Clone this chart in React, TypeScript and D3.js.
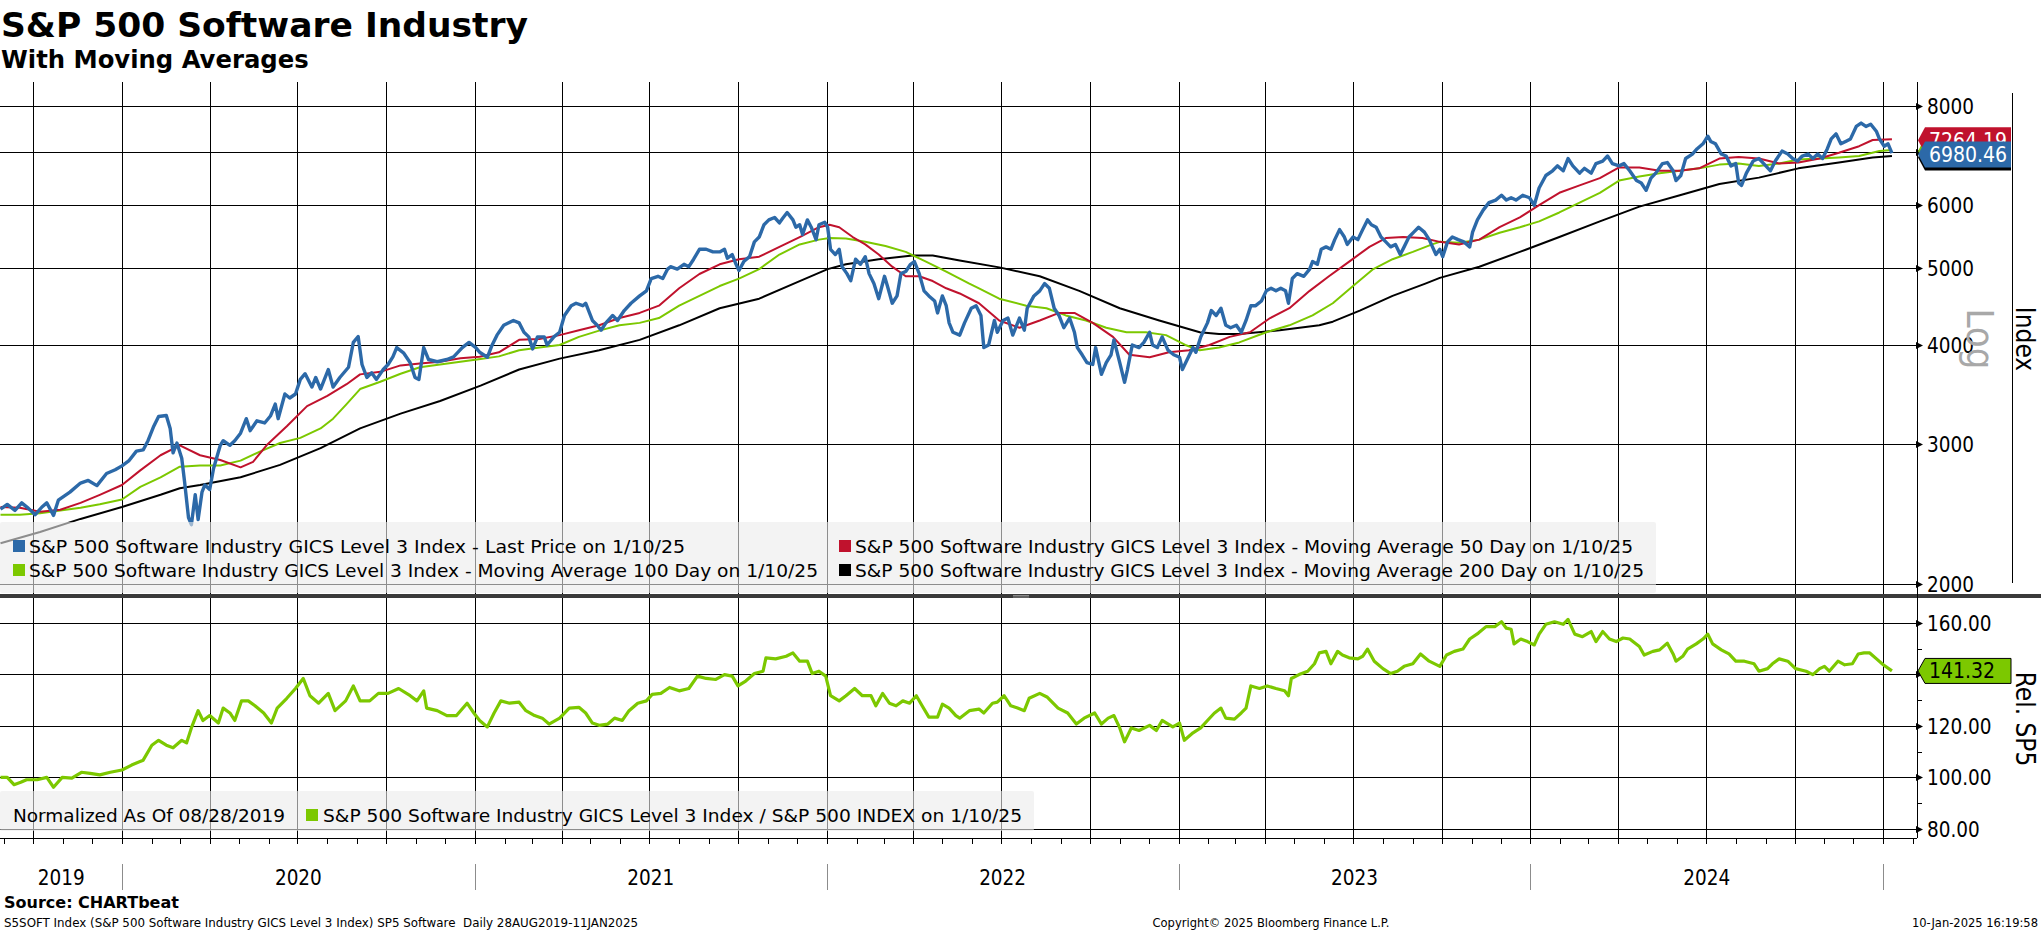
import { useEffect, useRef } from 'react';
import * as d3 from 'd3';

type Pt = [string, number];

// S5SOFT last price
const lastPrice: Pt[] = [
  ['2019-08-28', 2484], ['2019-09-04', 2519], ['2019-09-12', 2475], ['2019-09-19', 2530], ['2019-09-26', 2490],
  ['2019-10-03', 2445], ['2019-10-10', 2500], ['2019-10-15', 2530], ['2019-10-22', 2440], ['2019-10-27', 2550],
  ['2019-11-08', 2610], ['2019-11-19', 2680], ['2019-11-27', 2700], ['2019-12-06', 2660], ['2019-12-16', 2755],
  ['2019-12-25', 2785], ['2020-01-01', 2817], ['2020-01-08', 2857], ['2020-01-16', 2940], ['2020-01-23', 2950],
  ['2020-01-28', 3030], ['2020-02-03', 3160], ['2020-02-08', 3250], ['2020-02-16', 3260], ['2020-02-20', 3140],
  ['2020-02-23', 2925], ['2020-02-27', 3010], ['2020-03-03', 2880], ['2020-03-06', 2686], ['2020-03-10', 2425],
  ['2020-03-13', 2375], ['2020-03-17', 2590], ['2020-03-20', 2410], ['2020-03-24', 2610], ['2020-03-27', 2665],
  ['2020-04-01', 2630], ['2020-04-05', 2795], ['2020-04-12', 2990], ['2020-04-15', 3030], ['2020-04-22', 2990],
  ['2020-04-27', 3030], ['2020-05-03', 3097], ['2020-05-09', 3230], ['2020-05-13', 3120], ['2020-05-20', 3210],
  ['2020-05-28', 3190], ['2020-06-03', 3255], ['2020-06-08', 3370], ['2020-06-11', 3230], ['2020-06-18', 3470],
  ['2020-06-23', 3430], ['2020-06-29', 3470], ['2020-07-04', 3620], ['2020-07-09', 3680], ['2020-07-16', 3540],
  ['2020-07-20', 3640], ['2020-07-25', 3520], ['2020-08-02', 3725], ['2020-08-07', 3540], ['2020-08-14', 3640],
  ['2020-08-23', 3750], ['2020-08-28', 4030], ['2020-09-02', 4100], ['2020-09-06', 3780], ['2020-09-11', 3640],
  ['2020-09-16', 3690], ['2020-09-21', 3620], ['2020-09-28', 3725], ['2020-10-03', 3780], ['2020-10-08', 3865],
  ['2020-10-12', 3970], ['2020-10-19', 3910], ['2020-10-26', 3800], ['2020-10-31', 3640], ['2020-11-04', 3620],
  ['2020-11-09', 3970], ['2020-11-14', 3835], ['2020-11-23', 3810], ['2020-12-03', 3835], ['2020-12-10', 3865],
  ['2020-12-19', 3970], ['2020-12-26', 4030], ['2021-01-02', 3970], ['2021-01-06', 3916], ['2021-01-14', 3860],
  ['2021-01-19', 4000], ['2021-01-24', 4116], ['2021-01-31', 4235], ['2021-02-10', 4295], ['2021-02-16', 4265],
  ['2021-02-21', 4150], ['2021-02-26', 4095], ['2021-03-02', 3955], ['2021-03-07', 4095], ['2021-03-14', 4095],
  ['2021-03-17', 4000], ['2021-03-24', 4095], ['2021-03-30', 4150], ['2021-04-04', 4358], ['2021-04-11', 4483],
  ['2021-04-16', 4515], ['2021-04-23', 4483], ['2021-04-26', 4515], ['2021-05-03', 4295], ['2021-05-08', 4235],
  ['2021-05-12', 4175], ['2021-05-17', 4265], ['2021-05-24', 4358], ['2021-05-29', 4295], ['2021-06-05', 4420],
  ['2021-06-12', 4515], ['2021-06-21', 4612], ['2021-06-28', 4680], ['2021-07-03', 4850], ['2021-07-10', 4882],
  ['2021-07-15', 4850], ['2021-07-20', 4985], ['2021-07-23', 5020], ['2021-07-30', 4985], ['2021-08-06', 5055],
  ['2021-08-11', 5020], ['2021-08-16', 5130], ['2021-08-22', 5280], ['2021-08-29', 5280], ['2021-09-05', 5240],
  ['2021-09-12', 5240], ['2021-09-17', 5280], ['2021-09-20', 5145], ['2021-09-25', 5200], ['2021-09-29', 5055],
  ['2021-10-02', 4965], ['2021-10-07', 5095], ['2021-10-13', 5168], ['2021-10-18', 5395], ['2021-10-23', 5471],
  ['2021-10-28', 5670], ['2021-11-02', 5750], ['2021-11-08', 5790], ['2021-11-13', 5700], ['2021-11-16', 5770],
  ['2021-11-21', 5875], ['2021-11-27', 5750], ['2021-11-30', 5629], ['2021-12-04', 5670], ['2021-12-07', 5510],
  ['2021-12-12', 5750], ['2021-12-16', 5629], ['2021-12-21', 5430], ['2021-12-24', 5670], ['2021-12-30', 5710],
  ['2022-01-02', 5629], ['2022-01-05', 5280], ['2022-01-10', 5200], ['2022-01-14', 5280], ['2022-01-17', 5020],
  ['2022-01-22', 4920], ['2022-01-26', 4820], ['2022-01-31', 5130], ['2022-02-05', 5055], ['2022-02-10', 5168],
  ['2022-02-14', 4920], ['2022-02-19', 4780], ['2022-02-24', 4575], ['2022-03-02', 4882], ['2022-03-05', 4746],
  ['2022-03-10', 4515], ['2022-03-15', 4612], ['2022-03-19', 4920], ['2022-03-24', 4950], ['2022-03-29', 5055],
  ['2022-04-02', 5095], ['2022-04-07', 4920], ['2022-04-12', 4680], ['2022-04-17', 4612], ['2022-04-23', 4545],
  ['2022-04-26', 4390], ['2022-05-01', 4612], ['2022-05-05', 4483], ['2022-05-08', 4265], ['2022-05-12', 4150],
  ['2022-05-19', 4116], ['2022-05-24', 4265], ['2022-05-31', 4450], ['2022-06-05', 4483], ['2022-06-10', 4358],
  ['2022-06-13', 3970], ['2022-06-18', 4000], ['2022-06-24', 4295], ['2022-06-27', 4150], ['2022-07-03', 4295],
  ['2022-07-08', 4325], ['2022-07-13', 4116], ['2022-07-20', 4325], ['2022-07-25', 4175], ['2022-07-28', 4450],
  ['2022-08-04', 4612], ['2022-08-10', 4680], ['2022-08-15', 4780], ['2022-08-20', 4715], ['2022-08-25', 4450],
  ['2022-08-30', 4358], ['2022-09-04', 4205], ['2022-09-10', 4325], ['2022-09-15', 4150], ['2022-09-18', 3970],
  ['2022-09-23', 3888], ['2022-09-28', 3800], ['2022-10-04', 3780], ['2022-10-07', 3970], ['2022-10-13', 3673],
  ['2022-10-18', 3800], ['2022-10-23', 3888], ['2022-10-26', 4060], ['2022-11-01', 3800], ['2022-11-06', 3590],
  ['2022-11-09', 3725], ['2022-11-14', 4000], ['2022-11-21', 3970], ['2022-11-26', 4030], ['2022-12-02', 4150],
  ['2022-12-05', 4000], ['2022-12-10', 3970], ['2022-12-15', 4095], ['2022-12-21', 3940], ['2022-12-27', 3888],
  ['2023-01-02', 3860], ['2023-01-05', 3725], ['2023-01-10', 3835], ['2023-01-16', 3970], ['2023-01-19', 3916],
  ['2023-01-24', 4095], ['2023-01-31', 4265], ['2023-02-04', 4420], ['2023-02-09', 4358], ['2023-02-14', 4450],
  ['2023-02-19', 4235], ['2023-02-24', 4205], ['2023-03-02', 4235], ['2023-03-07', 4150], ['2023-03-12', 4295],
  ['2023-03-17', 4483], ['2023-03-22', 4483], ['2023-03-28', 4545], ['2023-04-02', 4680], ['2023-04-07', 4715],
  ['2023-04-12', 4680], ['2023-04-17', 4715], ['2023-04-22', 4680], ['2023-04-25', 4515], ['2023-04-29', 4850],
  ['2023-05-04', 4920], ['2023-05-11', 4882], ['2023-05-17', 4985], ['2023-05-20', 5095], ['2023-05-25', 5055],
  ['2023-05-29', 5280], ['2023-06-03', 5317], ['2023-06-08', 5280], ['2023-06-12', 5430], ['2023-06-17', 5590],
  ['2023-06-22', 5471], ['2023-06-25', 5355], ['2023-07-01', 5471], ['2023-07-06', 5430], ['2023-07-11', 5590],
  ['2023-07-16', 5750], ['2023-07-20', 5670], ['2023-07-25', 5629], ['2023-07-30', 5471], ['2023-08-04', 5395],
  ['2023-08-09', 5317], ['2023-08-14', 5355], ['2023-08-19', 5200], ['2023-08-23', 5317], ['2023-08-28', 5471],
  ['2023-09-02', 5550], ['2023-09-07', 5629], ['2023-09-13', 5550], ['2023-09-18', 5430], ['2023-09-25', 5200],
  ['2023-09-29', 5280], ['2023-10-02', 5168], ['2023-10-07', 5395], ['2023-10-12', 5471], ['2023-10-18', 5430],
  ['2023-10-24', 5395], ['2023-10-30', 5317], ['2023-11-02', 5550], ['2023-11-07', 5750], ['2023-11-13', 5915],
  ['2023-11-19', 6045], ['2023-11-26', 6090], ['2023-12-02', 6175], ['2023-12-07', 6090], ['2023-12-12', 6131],
  ['2023-12-17', 6090], ['2023-12-24', 6175], ['2023-12-31', 6131], ['2024-01-05', 6000], ['2024-01-10', 6308],
  ['2024-01-17', 6540], ['2024-01-24', 6630], ['2024-01-29', 6725], ['2024-02-04', 6630], ['2024-02-09', 6870],
  ['2024-02-14', 6725], ['2024-02-21', 6585], ['2024-02-26', 6677], ['2024-03-04', 6585], ['2024-03-09', 6770],
  ['2024-03-16', 6820], ['2024-03-21', 6920], ['2024-03-26', 6770], ['2024-04-02', 6725], ['2024-04-07', 6770],
  ['2024-04-13', 6630], ['2024-04-20', 6445], ['2024-04-25', 6400], ['2024-04-30', 6265], ['2024-05-05', 6490],
  ['2024-05-10', 6585], ['2024-05-17', 6770], ['2024-05-22', 6790], ['2024-05-28', 6630], ['2024-05-31', 6445],
  ['2024-06-05', 6540], ['2024-06-10', 6870], ['2024-06-17', 6960], ['2024-06-22', 7069], ['2024-06-28', 7170],
  ['2024-07-03', 7330], ['2024-07-06', 7220], ['2024-07-11', 7170], ['2024-07-17', 6960], ['2024-07-22', 6920],
  ['2024-07-27', 6725], ['2024-08-01', 6770], ['2024-08-04', 6400], ['2024-08-07', 6355], ['2024-08-12', 6585],
  ['2024-08-19', 6820], ['2024-08-25', 6870], ['2024-08-30', 6770], ['2024-09-06', 6630], ['2024-09-11', 6820],
  ['2024-09-18', 7020], ['2024-09-24', 6960], ['2024-09-29', 6870], ['2024-10-04', 6820], ['2024-10-09', 6920],
  ['2024-10-15', 6960], ['2024-10-20', 6870], ['2024-10-25', 6960], ['2024-10-30', 6870], ['2024-11-04', 7069],
  ['2024-11-08', 7273], ['2024-11-13', 7380], ['2024-11-18', 7170], ['2024-11-23', 7220], ['2024-11-28', 7273],
  ['2024-12-04', 7540], ['2024-12-09', 7615], ['2024-12-14', 7540], ['2024-12-19', 7590], ['2024-12-25', 7430],
  ['2024-12-28', 7273], ['2025-01-02', 7120], ['2025-01-06', 7170], ['2025-01-10', 6980.46],
];

const ma50: Pt[] = [
  ['2019-08-28', 2500], ['2019-09-17', 2495], ['2019-10-08', 2466], ['2019-10-29', 2480], ['2019-11-19', 2530],
  ['2019-12-09', 2590], ['2020-01-01', 2665], ['2020-01-20', 2780], ['2020-02-10', 2905], ['2020-03-01', 2990],
  ['2020-03-22', 2905], ['2020-04-12', 2865], ['2020-05-03', 2805], ['2020-05-16', 2850], ['2020-05-30', 2990],
  ['2020-06-20', 3160], ['2020-07-11', 3350], ['2020-08-01', 3450], ['2020-08-21', 3570], ['2020-09-04', 3673],
  ['2020-09-25', 3700], ['2020-10-16', 3770], ['2020-11-05', 3790], ['2020-11-26', 3810], ['2020-12-17', 3850],
  ['2021-01-06', 3865], ['2021-01-26', 3916], ['2021-02-16', 4060], ['2021-03-09', 4070], ['2021-03-30', 4116],
  ['2021-04-19', 4175], ['2021-05-10', 4235], ['2021-05-31', 4325], ['2021-06-21', 4390], ['2021-07-11', 4483],
  ['2021-08-01', 4715], ['2021-08-22', 4915], ['2021-09-12', 5055], ['2021-10-02', 5130], ['2021-10-23', 5168],
  ['2021-11-13', 5317], ['2021-12-04', 5471], ['2021-12-24', 5629], ['2022-01-04', 5670], ['2022-01-14', 5629],
  ['2022-01-28', 5471], ['2022-02-10', 5355], ['2022-02-24', 5200], ['2022-03-10', 5020], ['2022-03-24', 4882],
  ['2022-04-07', 4882], ['2022-04-21', 4815], ['2022-05-05', 4715], ['2022-05-19', 4645], ['2022-06-08', 4515],
  ['2022-06-29', 4295], ['2022-07-20', 4205], ['2022-08-10', 4295], ['2022-08-30', 4390], ['2022-09-15', 4390],
  ['2022-10-04', 4265], ['2022-10-25', 4095], ['2022-11-11', 3888], ['2022-12-02', 3860], ['2022-12-22', 3916],
  ['2023-01-12', 3940], ['2023-02-02', 4000], ['2023-02-23', 4095], ['2023-03-16', 4150], ['2023-04-06', 4325],
  ['2023-04-26', 4450], ['2023-05-17', 4680], ['2023-06-06', 4882], ['2023-06-27', 5095], ['2023-07-18', 5317],
  ['2023-08-04', 5455], ['2023-08-22', 5471], ['2023-09-11', 5455], ['2023-09-29', 5395], ['2023-10-19', 5355],
  ['2023-11-09', 5430], ['2023-11-30', 5629], ['2023-12-21', 5791], ['2024-01-10', 6000], ['2024-01-31', 6220],
  ['2024-02-21', 6355], ['2024-03-13', 6490], ['2024-04-02', 6695], ['2024-04-23', 6695], ['2024-05-14', 6630],
  ['2024-06-04', 6630], ['2024-06-24', 6677], ['2024-07-15', 6870], ['2024-08-04', 6900], ['2024-08-25', 6870],
  ['2024-09-15', 6770], ['2024-10-05', 6790], ['2024-10-27', 6870], ['2024-11-16', 6985], ['2024-12-07', 7120],
  ['2024-12-21', 7250], ['2025-01-10', 7264.19],
];

const ma100: Pt[] = [
  ['2019-08-28', 2445], ['2019-09-17', 2445], ['2019-10-08', 2455], ['2019-10-29', 2475], ['2019-11-19', 2495],
  ['2019-12-09', 2520], ['2020-01-01', 2555], ['2020-01-20', 2650], ['2020-02-10', 2725], ['2020-03-01', 2810],
  ['2020-03-22', 2820], ['2020-04-12', 2820], ['2020-05-03', 2860], ['2020-05-23', 2935], ['2020-06-13', 3010],
  ['2020-07-04', 3055], ['2020-07-25', 3140], ['2020-08-07', 3230], ['2020-08-21', 3370], ['2020-09-04', 3520],
  ['2020-09-25', 3595], ['2020-10-16', 3680], ['2020-11-05', 3750], ['2020-11-26', 3780], ['2020-12-17', 3810],
  ['2021-01-07', 3840], ['2021-01-26', 3870], ['2021-02-16', 3940], ['2021-03-09', 3970], ['2021-03-30', 4000],
  ['2021-04-19', 4095], ['2021-05-10', 4170], ['2021-05-31', 4235], ['2021-06-21', 4265], ['2021-07-11', 4325],
  ['2021-08-01', 4483], ['2021-08-22', 4612], ['2021-09-12', 4746], ['2021-10-02', 4850], ['2021-10-23', 4985],
  ['2021-11-13', 5200], ['2021-12-04', 5355], ['2021-12-24', 5430], ['2022-01-04', 5455], ['2022-01-21', 5447],
  ['2022-02-10', 5395], ['2022-03-03', 5330], ['2022-03-24', 5240], ['2022-04-14', 5095], ['2022-05-05', 4950],
  ['2022-05-19', 4850], ['2022-05-29', 4780], ['2022-06-08', 4715], ['2022-06-29', 4575], ['2022-07-27', 4483],
  ['2022-08-17', 4450], ['2022-09-06', 4358], ['2022-09-27', 4295], ['2022-10-18', 4205], ['2022-11-08', 4150],
  ['2022-11-28', 4150], ['2022-12-19', 4116], ['2023-01-08', 4000], ['2023-01-23', 3940], ['2023-02-12', 3970],
  ['2023-03-05', 4030], ['2023-04-02', 4150], ['2023-04-26', 4235], ['2023-05-20', 4358], ['2023-06-10', 4515],
  ['2023-07-01', 4746], ['2023-07-22', 4985], ['2023-08-11', 5130], ['2023-09-01', 5240], ['2023-09-21', 5355],
  ['2023-09-29', 5395], ['2023-10-19', 5380], ['2023-11-09', 5430], ['2023-11-30', 5540], ['2023-12-21', 5629],
  ['2024-01-10', 5725], ['2024-01-31', 5875], ['2024-02-21', 6045], ['2024-03-13', 6220], ['2024-04-02', 6445],
  ['2024-04-23', 6520], ['2024-05-14', 6585], ['2024-06-04', 6630], ['2024-06-24', 6677], ['2024-07-15', 6750],
  ['2024-08-04', 6770], ['2024-08-25', 6725], ['2024-09-15', 6770], ['2024-10-05', 6850], ['2024-10-27', 6870],
  ['2024-11-16', 6890], ['2024-12-07', 6920], ['2024-12-28', 7020], ['2025-01-10', 7040],
];

const ma200: Pt[] = [
  ['2019-08-28', 2250], ['2019-10-08', 2325], ['2019-11-19', 2415], ['2020-01-01', 2500], ['2020-02-10', 2590],
  ['2020-03-01', 2640], ['2020-03-22', 2665], ['2020-05-03', 2725], ['2020-06-13', 2825], ['2020-07-25', 2965],
  ['2020-09-04', 3140], ['2020-10-16', 3278], ['2020-11-26', 3400], ['2021-01-07', 3555], ['2021-02-16', 3725],
  ['2021-03-30', 3845], ['2021-05-10', 3940], ['2021-06-21', 4060], ['2021-08-01', 4235], ['2021-09-12', 4450],
  ['2021-10-23', 4575], ['2021-12-04', 4815], ['2022-01-02', 4985], ['2022-01-21', 5055], ['2022-02-24', 5130],
  ['2022-03-31', 5185], ['2022-04-21', 5185], ['2022-05-19', 5110], ['2022-06-29', 5010], ['2022-08-10', 4882],
  ['2022-09-20', 4680], ['2022-11-01', 4450], ['2022-12-12', 4295], ['2023-01-23', 4150], ['2023-02-12', 4130],
  ['2023-03-05', 4130], ['2023-04-16', 4175], ['2023-05-27', 4235], ['2023-06-10', 4280], ['2023-07-08', 4420],
  ['2023-08-11', 4612], ['2023-09-14', 4780], ['2023-09-29', 4860], ['2023-11-09', 5020], ['2023-12-21', 5240],
  ['2024-01-31', 5471], ['2024-03-13', 5725], ['2024-04-23', 5975], ['2024-06-04', 6175], ['2024-07-15', 6380],
  ['2024-08-25', 6500], ['2024-10-05', 6677], ['2024-11-16', 6790], ['2024-12-21', 6890], ['2025-01-10', 6920],
];

// S5SOFT / SPX, normalized to 100 on 08/28/2019
const relSP5: Pt[] = [
  ['2019-08-28', 100], ['2019-09-04', 100], ['2019-09-11', 97.2], ['2019-09-18', 98.1], ['2019-09-24', 99.1],
  ['2019-10-05', 99.1], ['2019-10-15', 100], ['2019-10-22', 96.2], ['2019-10-31', 100], ['2019-11-10', 99.7],
  ['2019-11-20', 102], ['2019-11-29', 101.6], ['2019-12-09', 101], ['2019-12-20', 102], ['2020-01-01', 102.9],
  ['2020-01-11', 104.8], ['2020-01-23', 106.7], ['2020-02-01', 112.5], ['2020-02-08', 114.4], ['2020-02-16', 112.5],
  ['2020-02-23', 111.5], ['2020-03-03', 114.4], ['2020-03-08', 113.4], ['2020-03-13', 119.2], ['2020-03-20', 125.9],
  ['2020-03-25', 122.1], ['2020-04-01', 124], ['2020-04-10', 121.1], ['2020-04-15', 126.9], ['2020-04-22', 125],
  ['2020-04-27', 122.1], ['2020-05-04', 129.7], ['2020-05-11', 129.7], ['2020-05-18', 127.8], ['2020-05-27', 125],
  ['2020-06-04', 121.1], ['2020-06-10', 126.9], ['2020-06-20', 130.7], ['2020-06-29', 134.5], ['2020-07-07', 138.4],
  ['2020-07-14', 131.7], ['2020-07-23', 128.8], ['2020-08-02', 132.6], ['2020-08-09', 125.9], ['2020-08-20', 129.7],
  ['2020-08-28', 135.5], ['2020-09-04', 129.7], ['2020-09-14', 129.7], ['2020-09-23', 132.6], ['2020-10-03', 132.6],
  ['2020-10-14', 134.5], ['2020-10-26', 131.7], ['2020-11-02', 129.7], ['2020-11-09', 133.6], ['2020-11-12', 126.9],
  ['2020-11-23', 125.9], ['2020-12-03', 124], ['2020-12-13', 124], ['2020-12-24', 128.8], ['2020-12-31', 125],
  ['2021-01-06', 122.1], ['2021-01-14', 119.6], ['2021-01-21', 125], ['2021-01-28', 129.7], ['2021-02-06', 128.8],
  ['2021-02-16', 129.2], ['2021-02-23', 125.9], ['2021-03-04', 124], ['2021-03-12', 123], ['2021-03-19', 120.7],
  ['2021-03-30', 123], ['2021-04-09', 126.9], ['2021-04-19', 127.2], ['2021-04-26', 125], ['2021-05-03', 121.1],
  ['2021-05-10', 120.2], ['2021-05-19', 120.7], ['2021-05-26', 123], ['2021-06-03', 122.1], ['2021-06-10', 125.9],
  ['2021-06-19', 128.8], ['2021-06-28', 129.7], ['2021-07-04', 132.2], ['2021-07-13', 132.6], ['2021-07-22', 134.9],
  ['2021-08-01', 133.6], ['2021-08-11', 134.5], ['2021-08-20', 139.3], ['2021-08-29', 138.4], ['2021-09-08', 138],
  ['2021-09-17', 139.9], ['2021-09-25', 139.3], ['2021-10-01', 135.5], ['2021-10-09', 137.4], ['2021-10-18', 140.3],
  ['2021-10-27', 141.2], ['2021-10-30', 146.4], ['2021-11-09', 146], ['2021-11-20', 147], ['2021-11-27', 148.3],
  ['2021-12-04', 145.1], ['2021-12-12', 145.1], ['2021-12-17', 140.3], ['2021-12-24', 141.2], ['2021-12-31', 139.3],
  ['2022-01-05', 131.7], ['2022-01-14', 129.7], ['2022-01-21', 131.7], ['2022-01-30', 134.5], ['2022-02-07', 131.7],
  ['2022-02-16', 131.7], ['2022-02-21', 127.8], ['2022-02-28', 132.6], ['2022-03-07', 128.8], ['2022-03-14', 127.8],
  ['2022-03-21', 129.7], ['2022-03-28', 128.8], ['2022-04-04', 131.7], ['2022-04-10', 127.8], ['2022-04-17', 123.4],
  ['2022-04-26', 123.4], ['2022-05-01', 128.4], ['2022-05-08', 126.9], ['2022-05-15', 124], ['2022-05-19', 123],
  ['2022-05-29', 125.9], ['2022-06-08', 126.5], ['2022-06-13', 125], ['2022-06-22', 128.8], ['2022-06-27', 129.2],
  ['2022-07-04', 131.7], ['2022-07-11', 127.8], ['2022-07-18', 126.9], ['2022-07-25', 125.9], ['2022-07-30', 130.7],
  ['2022-08-10', 132.6], ['2022-08-18', 131.1], ['2022-08-29', 126.9], ['2022-09-08', 125], ['2022-09-17', 120.7],
  ['2022-09-25', 123], ['2022-10-06', 125], ['2022-10-13', 120.7], ['2022-10-20', 123], ['2022-10-26', 124],
  ['2022-11-01', 119.2], ['2022-11-06', 113.8], ['2022-11-13', 119.2], ['2022-11-21', 118.2], ['2022-12-02', 120.2],
  ['2022-12-09', 118.2], ['2022-12-15', 122.1], ['2022-12-26', 119.6], ['2023-01-02', 121.1], ['2023-01-07', 114.4],
  ['2023-01-16', 117.3], ['2023-01-24', 119.2], ['2023-01-31', 122.1], ['2023-02-07', 124.9], ['2023-02-14', 126.9],
  ['2023-02-19', 123], ['2023-02-28', 122.6], ['2023-03-07', 125], ['2023-03-12', 126.9], ['2023-03-17', 135.5],
  ['2023-03-26', 134.5], ['2023-04-03', 135.5], ['2023-04-12', 134.5], ['2023-04-21', 133.6], ['2023-04-25', 131.7],
  ['2023-04-28', 138.4], ['2023-05-06', 139.9], ['2023-05-15', 141.2], ['2023-05-22', 144.1], ['2023-05-27', 148.3],
  ['2023-06-03', 148.9], ['2023-06-08', 144.1], ['2023-06-15', 148.9], ['2023-06-20', 147.5], ['2023-06-27', 146.4],
  ['2023-07-06', 146], ['2023-07-11', 147], ['2023-07-16', 149.8], ['2023-07-23', 145.1], ['2023-08-01', 142.2],
  ['2023-08-09', 140.3], ['2023-08-16', 141.2], ['2023-08-23', 143.1], ['2023-09-01', 144.1], ['2023-09-09', 147.9],
  ['2023-09-18', 145.1], ['2023-09-29', 143.1], ['2023-10-06', 147.5], ['2023-10-14', 148.9], ['2023-10-23', 149.8],
  ['2023-10-30', 153.7], ['2023-11-08', 156], ['2023-11-16', 158.5], ['2023-11-25', 158.5], ['2023-12-02', 160.4],
  ['2023-12-07', 157.9], ['2023-12-12', 157.5], ['2023-12-15', 151.8], ['2023-12-22', 153.7], ['2023-12-29', 152.7],
  ['2024-01-05', 151.4], ['2024-01-10', 155.6], ['2024-01-17', 159.4], ['2024-01-26', 160.4], ['2024-02-04', 159.4],
  ['2024-02-09', 161.3], ['2024-02-16', 155.6], ['2024-02-24', 154.6], ['2024-03-04', 156.6], ['2024-03-09', 152.7],
  ['2024-03-16', 156.6], ['2024-03-23', 153.7], ['2024-03-30', 152.7], ['2024-04-06', 154.1], ['2024-04-13', 153.7],
  ['2024-04-23', 150.8], ['2024-04-28', 147.5], ['2024-05-07', 148.9], ['2024-05-14', 149.5], ['2024-05-22', 152.1],
  ['2024-05-28', 147.9], ['2024-05-31', 145.1], ['2024-06-07', 147], ['2024-06-12', 149.8], ['2024-06-21', 151.8],
  ['2024-06-28', 153.7], ['2024-07-03', 155.6], ['2024-07-08', 151.8], ['2024-07-17', 149.5], ['2024-07-25', 147.9],
  ['2024-08-01', 145.1], ['2024-08-10', 145.1], ['2024-08-20', 144.1], ['2024-08-25', 141.2], ['2024-09-03', 142.2],
  ['2024-09-08', 144.1], ['2024-09-15', 146], ['2024-09-24', 145.1], ['2024-10-02', 142.2], ['2024-10-13', 141.2],
  ['2024-10-20', 139.9], ['2024-10-27', 142.2], ['2024-11-01', 143.1], ['2024-11-06', 141.2], ['2024-11-15', 145.1],
  ['2024-11-22', 143.7], ['2024-11-30', 144.1], ['2024-12-06', 147.9], ['2024-12-12', 148.3], ['2024-12-18', 148.3],
  ['2024-12-25', 146], ['2025-01-01', 143.7], ['2025-01-10', 141.32],
];

const priceTicks = [2000, 3000, 4000, 5000, 6000, 7000, 8000];
const relTicks = [80, 100, 120, 140, 160];
const relMinorTicks = [90, 110, 130, 150];

const upperLegendLabels = [
  'S&P 500 Software Industry GICS Level 3 Index - Last Price on 1/10/25',
  'S&P 500 Software Industry GICS Level 3 Index - Moving Average 50 Day on 1/10/25',
  'S&P 500 Software Industry GICS Level 3 Index - Moving Average 100 Day on 1/10/25',
  'S&P 500 Software Industry GICS Level 3 Index - Moving Average 200 Day on 1/10/25',
];
const lowerLegendNote = 'Normalized As Of 08/28/2019';
const lowerLegendLabel = 'S&P 500 Software Industry GICS Level 3 Index / S&P 500 INDEX on 1/10/25';

const BLUE = '#2c69a8';
const RED = '#c0122d';
const GREEN = '#7cc800';
const FONT = "'DejaVu Sans Condensed', 'DejaVu Sans', sans-serif";

const W = 2041;
const H = 932;
const AXIS_X = 1917;

const SoftwareChart = () => {
  const svgRef = useRef<SVGSVGElement | null>(null);

  useEffect(() => {
    document.body.style.margin = '0';
    const parse = d3.timeParse('%Y-%m-%d');
    const svg = d3.select(svgRef.current);
    svg.selectAll('*').remove();
    svg.attr('width', W).attr('height', H);

    const x = d3.scaleTime()
      .domain([parse('2019-08-28')!, parse('2025-02-05')!])
      .range([0.5, AXIS_X]);
    const yP = d3.scaleLog().domain([1948, 8578]).range([593, 82]);
    const yR = d3.scaleLinear().domain([76.5, 170]).range([838, 597]);

    const last = (s: Pt[]) => s[s.length - 1][1];
    // tag centres, used also to skip axis labels hidden behind them
    const tagRed = yP(last(ma50)) + 1;
    const tagBlue = yP(last(lastPrice)) + 1.5;

    svg.append('rect').attr('width', W).attr('height', H).attr('fill', '#fff');

    // titles
    svg.append('text').attr('x', 1).attr('y', 37).text('S&P 500 Software Industry')
      .style('font-family', 'DejaVu Sans').style('font-weight', 'bold').style('font-size', '34.5px');
    svg.append('text').attr('x', 1).attr('y', 68).text('With Moving Averages')
      .style('font-family', 'DejaVu Sans').style('font-weight', 'bold').style('font-size', '24.3px');

    const defs = svg.append('defs');
    defs.append('clipPath').attr('id', 'clipTop').append('rect')
      .attr('x', 0).attr('y', 82).attr('width', AXIS_X).attr('height', 511);
    defs.append('clipPath').attr('id', 'clipBot').append('rect')
      .attr('x', 0).attr('y', 598).attr('width', AXIS_X).attr('height', 240);

    const grid = svg.append('g').attr('stroke', '#000').attr('stroke-width', 1);
    const quarters = d3.timeMonth.every(3)!.range(x.domain()[0], x.domain()[1]);
    quarters.forEach(d => {
      const xx = Math.round(x(d)) + 0.5;
      grid.append('line').attr('x1', xx).attr('x2', xx).attr('y1', 82).attr('y2', 838);
    });

    const arrow = (g: d3.Selection<SVGGElement, unknown, null, undefined>, yy: number) => {
      g.append('path').attr('d', `M${AXIS_X - 1},${yy - 3.5}L${AXIS_X + 6},${yy}L${AXIS_X - 1},${yy + 3.5}Z`)
        .attr('fill', '#000');
    };

    const axisG = svg.append('g');
    priceTicks.forEach(v => {
      const yy = Math.round(yP(v)) + 0.5;
      grid.append('line').attr('x1', 0).attr('x2', AXIS_X).attr('y1', yy).attr('y2', yy);
      arrow(axisG, yy);
      const hidden = yy > tagRed - 14 && yy < tagBlue + 14;
      if (!hidden) {
        axisG.append('text').attr('x', 1927).attr('y', yy + 7).text(String(v))
          .style('font-family', FONT).style('font-size', '20.5px');
      }
    });
    relTicks.forEach(v => {
      const yy = Math.round(yR(v)) + 0.5;
      grid.append('line').attr('x1', 0).attr('x2', AXIS_X).attr('y1', yy).attr('y2', yy);
      arrow(axisG, yy);
      axisG.append('text').attr('x', 1927).attr('y', yy + 7).text(v.toFixed(2))
        .style('font-family', FONT).style('font-size', '20.5px');
    });
    relMinorTicks.forEach(v => {
      const yy = Math.round(yR(v)) + 0.5;
      axisG.append('line').attr('x1', AXIS_X).attr('x2', AXIS_X + 5).attr('y1', yy).attr('y2', yy)
        .attr('stroke', '#000');
    });

    // series
    const toPts = (s: Pt[]) => s.map(([d, v]) => [parse(d)!, v] as [Date, number]);
    const lineP = d3.line<[Date, number]>().x(d => x(d[0])).y(d => yP(d[1]));
    const lineR = d3.line<[Date, number]>().x(d => x(d[0])).y(d => yR(d[1]));

    const top = svg.append('g').attr('clip-path', 'url(#clipTop)').attr('fill', 'none')
      .attr('stroke-linejoin', 'round');
    top.append('path').attr('d', lineP(toPts(ma200))).attr('stroke', '#000').attr('stroke-width', 2);
    top.append('path').attr('d', lineP(toPts(ma100))).attr('stroke', GREEN).attr('stroke-width', 2);
    top.append('path').attr('d', lineP(toPts(ma50))).attr('stroke', RED).attr('stroke-width', 2);
    top.append('path').attr('d', lineP(toPts(lastPrice))).attr('stroke', BLUE).attr('stroke-width', 3.4);

    svg.append('g').attr('clip-path', 'url(#clipBot)').append('path')
      .attr('d', lineR(toPts(relSP5))).attr('fill', 'none').attr('stroke', GREEN)
      .attr('stroke-width', 3.2).attr('stroke-linejoin', 'round');

    // legends
    const legendColors = [BLUE, RED, GREEN, '#000'];
    const legendSlots = [
      { x: 13, y: 553, w: 656 }, { x: 839, y: 553, w: 778 },
      { x: 13, y: 577, w: 789 }, { x: 839, y: 577, w: 789 },
    ];
    svg.append('rect').attr('x', 0).attr('y', 522).attr('width', 1656).attr('height', 71)
      .attr('fill', '#ebebeb').attr('opacity', 0.6).attr('rx', 2);
    upperLegendLabels.forEach((label, i) => {
      const s = legendSlots[i];
      svg.append('rect').attr('x', s.x).attr('y', s.y - 13).attr('width', 12).attr('height', 12)
        .attr('fill', legendColors[i]);
      svg.append('text').attr('x', s.x + 16).attr('y', s.y).text(label)
        .attr('textLength', s.w).attr('lengthAdjust', 'spacingAndGlyphs')
        .style('font-family', FONT).style('font-size', '18px');
    });

    svg.append('rect').attr('x', 0).attr('y', 791).attr('width', 1034).attr('height', 40)
      .attr('fill', '#ebebeb').attr('opacity', 0.6).attr('rx', 2);
    svg.append('text').attr('x', 13).attr('y', 822).text(lowerLegendNote)
      .attr('textLength', 272).attr('lengthAdjust', 'spacingAndGlyphs')
      .style('font-family', FONT).style('font-size', '18px');
    svg.append('rect').attr('x', 306).attr('y', 809).attr('width', 12).attr('height', 12).attr('fill', GREEN);
    svg.append('text').attr('x', 323).attr('y', 822).text(lowerLegendLabel)
      .attr('textLength', 699).attr('lengthAdjust', 'spacingAndGlyphs')
      .style('font-family', FONT).style('font-size', '18px');

    // separator between panels
    svg.append('rect').attr('x', 0).attr('y', 594).attr('width', W).attr('height', 4).attr('fill', '#3a3a3a');
    [595.5, 597].forEach(yy => svg.append('line').attr('x1', 1013).attr('x2', 1029)
      .attr('y1', yy).attr('y2', yy).attr('stroke', '#8a8a8a'));

    // right axis + frame
    svg.append('line').attr('x1', AXIS_X + 0.5).attr('x2', AXIS_X + 0.5).attr('y1', 82).attr('y2', 838)
      .attr('stroke', '#000');
    svg.append('line').attr('x1', 2012.5).attr('x2', 2012.5).attr('y1', 93).attr('y2', 583)
      .attr('stroke', '#000');

    const vert = (txt: string, xx: number, yy: number, size: number, color: string) =>
      svg.append('text').attr('transform', `translate(${xx},${yy}) rotate(90)`)
        .attr('text-anchor', 'middle').text(txt).attr('fill', color)
        .style('font-family', FONT).style('font-size', `${size}px`);
    vert('Log', 1967, 339, 38, '#a8a8a8');
    vert('Index', 2016, 339, 26, '#000');
    vert('Rel. SP5', 2016, 719, 26, '#000');

    // last value tags
    const tag = (cy: number, half: number, fill: string, stroke: string | null, label: string | null, color: string) => {
      svg.append('path')
        .attr('d', `M1918,${cy}L1925,${cy - half}L2011,${cy - half}L2011,${cy + half}L1925,${cy + half}Z`)
        .attr('fill', fill).attr('stroke', stroke ?? 'none').attr('stroke-width', 1);
      if (label) {
        svg.append('text').attr('x', 1929).attr('y', cy + 7.5).text(label).attr('fill', color)
          .style('font-family', FONT).style('font-size', '21px');
      }
    };
    tag(yP(last(ma200)) + 1.5, 13, '#000', null, null, '#fff');
    tag(yP(last(ma100)) + 1, 13, GREEN, null, null, '#000');
    tag(tagRed, 13, RED, null, last(ma50).toFixed(2), '#fff');
    tag(tagBlue, 13, BLUE, null, last(lastPrice).toFixed(2), '#fff');
    tag(yR(last(relSP5)), 12.5, GREEN, '#000', last(relSP5).toFixed(2), '#000');

    // time axis
    svg.append('line').attr('x1', 0).attr('x2', AXIS_X).attr('y1', 838.5).attr('y2', 838.5).attr('stroke', '#000');
    d3.timeMonth.range(x.domain()[0], x.domain()[1]).forEach(d => {
      const xx = Math.round(x(d)) + 0.5;
      svg.append('line').attr('x1', xx).attr('x2', xx).attr('y1', 838).attr('y2', 844).attr('stroke', '#000');
    });
    const years = d3.timeYear.range(d3.timeYear.floor(x.domain()[0]), x.domain()[1]);
    years.forEach(d => {
      const start = Math.max(x(d), x.range()[0]);
      const nextYear = d3.timeYear.offset(d, 1);
      const end = Math.min(x(nextYear), AXIS_X);
      if (nextYear < x.domain()[1]) {
        const xs = Math.round(x(nextYear)) + 0.5;
        svg.append('line').attr('x1', xs).attr('x2', xs).attr('y1', 864).attr('y2', 890).attr('stroke', '#8c8c8c');
      }
      if (end - start > 80) {
        svg.append('text').attr('x', (start + end) / 2).attr('y', 885).attr('text-anchor', 'middle')
          .text(d3.timeFormat('%Y')(d)).style('font-family', FONT).style('font-size', '20.5px');
      }
    });

    // footer
    svg.append('text').attr('x', 4).attr('y', 908).text('Source: CHARTbeat')
      .style('font-family', 'DejaVu Sans').style('font-weight', 'bold').style('font-size', '16px');
    svg.append('text').attr('x', 4).attr('y', 927)
      .text('S5SOFT Index (S&P 500 Software Industry GICS Level 3 Index) SP5 Software  Daily 28AUG2019-11JAN2025')
      .attr('textLength', 634).attr('lengthAdjust', 'spacingAndGlyphs')
      .style('white-space', 'pre').style('font-family', FONT).style('font-size', '12.5px');
    svg.append('text').attr('x', 1271).attr('y', 927).attr('text-anchor', 'middle')
      .text('Copyright© 2025 Bloomberg Finance L.P.')
      .style('font-family', FONT).style('font-size', '12.8px');
    svg.append('text').attr('x', 2038).attr('y', 927).attr('text-anchor', 'end')
      .text('10-Jan-2025 16:19:58')
      .style('font-family', FONT).style('font-size', '12.8px');
  }, []);

  return <svg ref={svgRef} style={{ display: 'block' }}></svg>;
};

export default function App() {
  return <SoftwareChart />;
}
